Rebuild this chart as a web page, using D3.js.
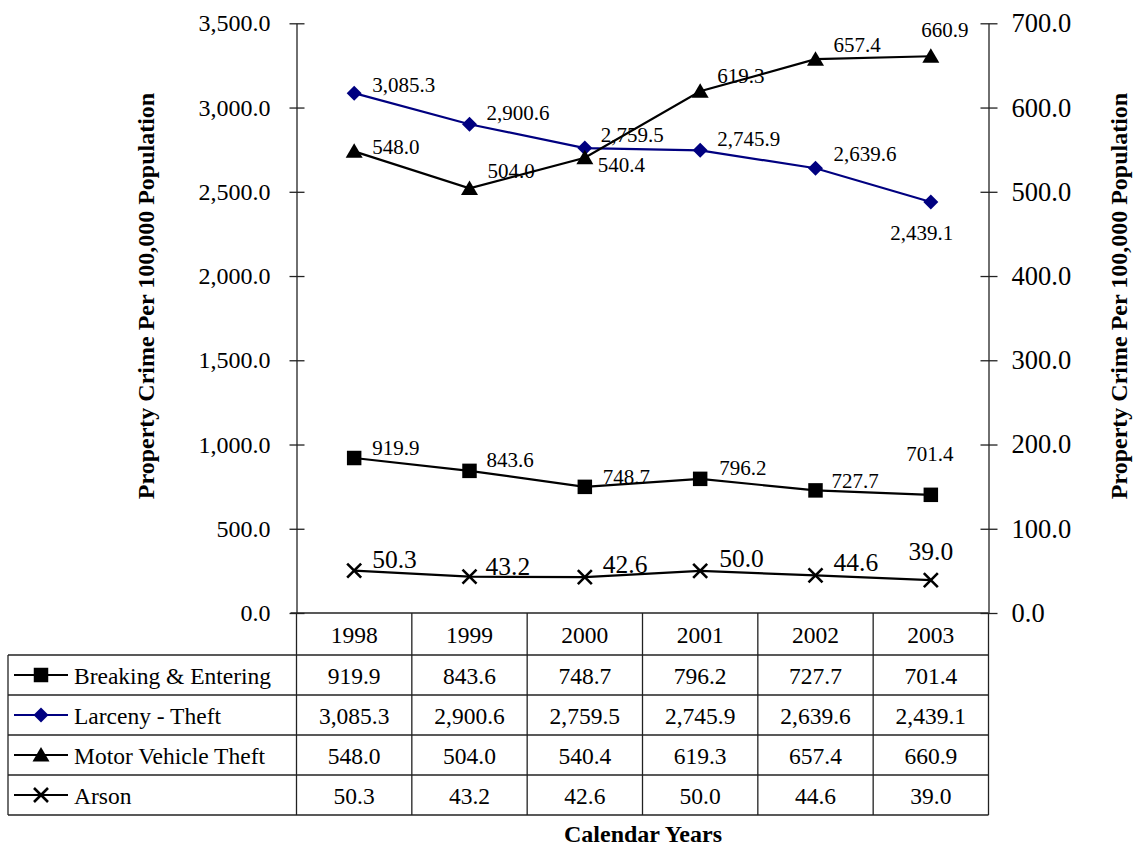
<!DOCTYPE html>
<html>
<head>
<meta charset="utf-8">
<script src="https://cdn.jsdelivr.net/npm/d3@7/dist/d3.min.js"></script>
<style>
  html, body { margin: 0; padding: 0; background: #fff; }
  svg { display: block; font-family: "Liberation Serif", "Times New Roman", serif; }
</style>
</head>
<body>
<svg id="chart" width="1137" height="848"></svg>
<script>
// Property crime rates per 100,000 population, 1998-2003
const years = ["1998", "1999", "2000", "2001", "2002", "2003"];
const breakingEntering = [919.9, 843.6, 748.7, 796.2, 727.7, 701.4];
const larcenyTheft = [3085.3, 2900.6, 2759.5, 2745.9, 2639.6, 2439.1];
const motorVehicleTheft = [548.0, 504.0, 540.4, 619.3, 657.4, 660.9];
const arson = [50.3, 43.2, 42.6, 50.0, 44.6, 39.0];
const leftTicks = [0, 500, 1000, 1500, 2000, 2500, 3000, 3500];
const rightTicks = [0, 100, 200, 300, 400, 500, 600, 700];

const series = [
  { name: "Breaking & Entering", values: breakingEntering, axis: "left", color: "#000", symbol: "square" },
  { name: "Larceny - Theft", values: larcenyTheft, axis: "left", color: "#000080", symbol: "diamond" },
  { name: "Motor Vehicle Theft", values: motorVehicleTheft, axis: "right", color: "#000", symbol: "triangle" },
  { name: "Arson", values: arson, axis: "right", color: "#000", symbol: "cross" }
];

// Label placement tweaks (dx, dy from the marker; anchor)
const labelDefault = { dx: 17, dy: -4, anchor: "start" };
const labelTweaks = {
  "Larceny - Theft|1998": { dx: 18, dy: -1 },
  "Larceny - Theft|2000": { dx: 16, dy: -6 },
  "Larceny - Theft|2002": { dx: 18, dy: -7 },
  "Larceny - Theft|2003": { dx: -9, dy: 38, anchor: "middle" },
  "Motor Vehicle Theft|1998": { dx: 18, dy: 3 },
  "Motor Vehicle Theft|1999": { dx: 18, dy: -10 },
  "Motor Vehicle Theft|2000": { dx: 13, dy: 14 },
  "Motor Vehicle Theft|2001": { dx: 17, dy: -8 },
  "Motor Vehicle Theft|2002": { dx: 18, dy: -7 },
  "Motor Vehicle Theft|2003": { dx: 14, dy: -19, anchor: "middle" },
  "Breaking & Entering|1998": { dx: 18, dy: -3 },
  "Breaking & Entering|2000": { dx: 18, dy: -3 },
  "Breaking & Entering|2001": { dx: 19, dy: -4 },
  "Breaking & Entering|2002": { dx: 16, dy: -2 },
  "Breaking & Entering|2003": { dx: -1, dy: -34, anchor: "middle" },
  "Arson|1998": { dx: 18, dy: -3 },
  "Arson|1999": { dx: 16, dy: -2 },
  "Arson|2000": { dx: 18, dy: -4 },
  "Arson|2001": { dx: 19, dy: -4 },
  "Arson|2002": { dx: 18, dy: -4 },
  "Arson|2003": { dx: 0, dy: -20, anchor: "middle" }
};

const svg = d3.select("#chart");
const plot = { left: 296.5, right: 988.5, top: 23.3, bottom: 613 };
const rowH = 40, headerH = 42, tableLeft = 8;

const x = d3.scaleBand().domain(years).range([plot.left, plot.right]).padding(0);
const cx = d => x(d) + x.bandwidth() / 2;
const yLeft = d3.scaleLinear().domain([0, 3500]).range([plot.bottom, plot.top]);
const yRight = d3.scaleLinear().domain([0, 700]).range([plot.bottom, plot.top]);
const fmt = d3.format(",.1f");
const axisColor = "#222";

// Left axis
const gL = svg.append("g").attr("transform", `translate(${plot.left},0)`)
  .call(d3.axisLeft(yLeft).tickValues(leftTicks).tickFormat(fmt).tickSizeInner(7).tickSizeOuter(0).tickPadding(19));
gL.select(".domain").attr("stroke", axisColor).attr("stroke-width", 1.3);
gL.selectAll(".tick line").attr("x1", 8).attr("stroke", axisColor).attr("stroke-width", 1.3);
gL.selectAll(".tick text").attr("font-size", 24).attr("font-family", "Liberation Serif, serif").attr("fill", "#000");

// Right axis
const gR = svg.append("g").attr("transform", `translate(${plot.right},0)`)
  .call(d3.axisRight(yRight).tickValues(rightTicks).tickFormat(fmt).tickSizeInner(9).tickSizeOuter(0).tickPadding(14));
gR.select(".domain").attr("stroke", axisColor).attr("stroke-width", 1.3);
gR.selectAll(".tick line").attr("x1", -8).attr("stroke", axisColor).attr("stroke-width", 1.3);
gR.selectAll(".tick text").attr("font-size", 26.5).attr("font-family", "Liberation Serif, serif").attr("fill", "#000");

// Axis titles
svg.append("text")
  .attr("transform", `translate(154,${(92 + 500) / 2}) rotate(-90)`)
  .attr("text-anchor", "middle").attr("font-weight", "bold").attr("font-size", 24)
  .text("Property Crime Per 100,000 Population");
svg.append("text")
  .attr("transform", `translate(1127,${(92 + 500) / 2}) rotate(-90)`)
  .attr("text-anchor", "middle").attr("font-weight", "bold").attr("font-size", 24)
  .text("Property Crime Per 100,000 Population");
svg.append("text")
  .attr("x", 643).attr("y", 842)
  .attr("text-anchor", "middle").attr("font-weight", "bold").attr("font-size", 24)
  .text("Calendar Years");

// Marker shapes
function drawMarker(g, symbol, color, px, py) {
  if (symbol === "square") {
    g.append("path").attr("d", d3.symbol(d3.symbolSquare, 210)()).attr("transform", `translate(${px},${py})`).attr("fill", color);
  } else if (symbol === "diamond") {
    const s = 7.5;
    g.append("path").attr("d", `M0,${-s}L${s},0L0,${s}L${-s},0Z`).attr("transform", `translate(${px},${py})`).attr("fill", color);
  } else if (symbol === "triangle") {
    g.append("path").attr("d", "M0,-8L8.5,6.5L-8.5,6.5Z").attr("transform", `translate(${px},${py})`).attr("fill", color);
  } else if (symbol === "cross") {
    const s = 7;
    g.append("path").attr("d", `M${-s},${-s}L${s},${s}M${-s},${s}L${s},${-s}`).attr("transform", `translate(${px},${py})`)
      .attr("stroke", color).attr("stroke-width", 2.6).attr("fill", "none");
  }
}

// Series lines, markers and value labels
series.forEach(s => {
  const y = s.axis === "left" ? yLeft : yRight;
  const g = svg.append("g");
  const line = d3.line().x((d, i) => cx(years[i])).y(d => y(d));
  g.append("path").attr("d", line(s.values)).attr("fill", "none").attr("stroke", s.color).attr("stroke-width", 2.2);
  s.values.forEach((v, i) => drawMarker(g, s.symbol, s.color, cx(years[i]), y(v)));
  s.values.forEach((v, i) => {
    const t = Object.assign({}, labelDefault, labelTweaks[s.name + "|" + years[i]] || {});
    g.append("text")
      .attr("x", cx(years[i]) + t.dx).attr("y", y(v) + t.dy)
      .attr("text-anchor", t.anchor)
      .attr("font-size", s.symbol === "cross" ? 25.5 : 21)
      .attr("fill", "#000")
      .text(fmt(v));
  });
});

// Data table below the plot
const tbl = svg.append("g");
const tableBottom = plot.bottom + headerH + rowH * series.length;
const edges = [plot.left].concat(years.map(yy => x(yy) + x.bandwidth()));
const lineAttrs = sel => sel.attr("stroke", axisColor).attr("stroke-width", 1.3);

// x-axis line (top of header row)
lineAttrs(tbl.append("line").attr("x1", plot.left - 6).attr("x2", plot.right).attr("y1", plot.bottom).attr("y2", plot.bottom));
// column separators
edges.forEach(ex => lineAttrs(tbl.append("line").attr("x1", ex).attr("x2", ex).attr("y1", plot.bottom).attr("y2", tableBottom)));
// left border of legend column
lineAttrs(tbl.append("line").attr("x1", tableLeft).attr("x2", tableLeft).attr("y1", plot.bottom + headerH).attr("y2", tableBottom));
// horizontal row rules
d3.range(series.length + 1).forEach(i => {
  const yy = plot.bottom + headerH + rowH * i;
  lineAttrs(tbl.append("line").attr("x1", tableLeft).attr("x2", plot.right).attr("y1", yy).attr("y2", yy));
});

// header years
years.forEach(yy => {
  tbl.append("text").attr("x", cx(yy)).attr("y", plot.bottom + headerH / 2 + 8.5)
    .attr("text-anchor", "middle").attr("font-size", 23.5).text(yy);
});

// rows: legend key + values
series.forEach((s, r) => {
  const rowMid = plot.bottom + headerH + rowH * r + rowH / 2;
  tbl.append("line").attr("x1", 14).attr("x2", 68).attr("y1", rowMid).attr("y2", rowMid)
    .attr("stroke", s.color).attr("stroke-width", 2.2);
  drawMarker(tbl, s.symbol, s.color, 41, rowMid);
  tbl.append("text").attr("x", 74).attr("y", rowMid + 9).attr("font-size", 23.5).text(s.name);
  s.values.forEach((v, i) => {
    tbl.append("text").attr("x", cx(years[i])).attr("y", rowMid + 9)
      .attr("text-anchor", "middle").attr("font-size", 23.5).text(fmt(v));
  });
});
</script>
</body>
</html>
